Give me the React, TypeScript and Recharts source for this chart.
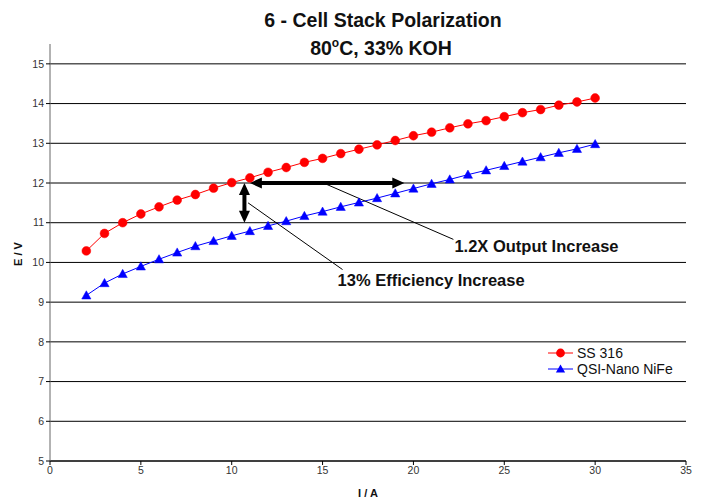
import React from "react";
import {
  LineChart,
  Line,
  XAxis,
  YAxis,
  ReferenceLine,
} from "recharts";

// current in A
const currentA = [
  2, 3, 4, 5, 6, 7, 8, 9, 10, 11, 12, 13, 14, 15, 16, 17, 18, 19, 20, 21, 22,
  23, 24, 25, 26, 27, 28, 29, 30,
];

// stack voltage in V
const ss316 = [
  10.29, 10.73, 11.0, 11.22, 11.4, 11.57, 11.71, 11.87, 12.01, 12.13, 12.27,
  12.39, 12.52, 12.62, 12.74, 12.85, 12.96, 13.07, 13.19, 13.28, 13.39, 13.49,
  13.57, 13.67, 13.77, 13.85, 13.96, 14.04, 14.14,
];

const qsiNano = [
  9.17, 9.48, 9.71, 9.9, 10.08, 10.25, 10.41, 10.54, 10.67, 10.79, 10.92,
  11.04, 11.17, 11.28, 11.4, 11.51, 11.62, 11.74, 11.86, 11.98, 12.09, 12.21,
  12.32, 12.43, 12.54, 12.65, 12.76, 12.86, 12.98,
];

const xTicks = [0, 5, 10, 15, 20, 25, 30, 35];
const yTicks = [5, 6, 7, 8, 9, 10, 11, 12, 13, 14, 15];

const data = currentA.map((i, k) => ({
  current: i,
  ss316: ss316[k],
  qsi: qsiNano[k],
}));

const FONT = "'Liberation Sans', Arial, Helvetica, sans-serif";

const RedDot = (props: any) => {
  const { cx, cy, index } = props;
  if (cx == null || cy == null) return <g key={index} />;
  return <circle key={index} cx={cx} cy={cy} r={4.4} fill="#ff0000" stroke="#ff0000" strokeWidth={0.5} />;
};

const BlueTri = (props: any) => {
  const { cx, cy, index } = props;
  if (cx == null || cy == null) return <g key={index} />;
  const pts = `${cx},${cy - 4.6} ${cx + 4.6},${cy + 3.6} ${cx - 4.6},${cy + 3.6}`;
  return <polygon key={index} points={pts} fill="#0000ff" stroke="#0000ff" strokeWidth={0.5} />;
};

// thick double headed arrow
const doubleArrow = (props: any) => {
  const { x1, y1, x2, y2 } = props;
  const dx = x2 - x1;
  const dy = y2 - y1;
  const len = Math.sqrt(dx * dx + dy * dy) || 1;
  const ux = dx / len;
  const uy = dy / len;
  const hl = 12;
  const hw = 5.5;
  const head = (tx: number, ty: number, dirx: number, diry: number) => {
    const bx = tx - dirx * hl;
    const by = ty - diry * hl;
    return `${tx},${ty} ${bx - diry * hw},${by + dirx * hw} ${bx + diry * hw},${by - dirx * hw}`;
  };
  return (
    <g>
      <line
        x1={x1 + ux * (hl - 1)}
        y1={y1 + uy * (hl - 1)}
        x2={x2 - ux * (hl - 1)}
        y2={y2 - uy * (hl - 1)}
        stroke="#000"
        strokeWidth={4}
      />
      <polygon points={head(x2, y2, ux, uy)} fill="#000" />
      <polygon points={head(x1, y1, -ux, -uy)} fill="#000" />
    </g>
  );
};

const leader = (text: string, tdx: number, tdy: number) => (props: any) => {
  const { x1, y1, x2, y2 } = props;
  return (
    <g>
      <line x1={x1} y1={y1} x2={x2} y2={y2} stroke="#000" strokeWidth={1} />
      <text
        x={x2 + tdx}
        y={y2 + tdy}
        fontFamily={FONT}
        fontSize={16.5}
        fontWeight="bold"
        fill="#111"
      >
        {text}
      </text>
    </g>
  );
};

export default function App() {
  return (
    <div style={{ position: "relative", width: 702, height: 498, background: "#fff", fontFamily: FONT }}>
      <style>{"body{margin:0}"}</style>
      <LineChart
        width={702}
        height={498}
        data={data}
        margin={{ top: 44, right: 16, bottom: 7, left: 0 }}
      >
        {/* horizontal grid, one line per labelled tick */}
        {yTicks.map((t) => (
          <ReferenceLine key={"g" + t} y={t} stroke="#000" strokeWidth={1} />
        ))}
        <XAxis
          type="number"
          dataKey="current"
          domain={[0, 35]}
          ticks={xTicks}
          height={30}
          tickSize={4}
          axisLine={{ stroke: "#000" }}
          tickLine={{ stroke: "#000" }}
          tick={{ fontSize: 10.5, fill: "#333", fontFamily: FONT }}
        />
        <YAxis
          type="number"
          domain={[5, 15.5]}
          ticks={yTicks}
          width={50}
          tickSize={4}
          axisLine={{ stroke: "#666" }}
          tickLine={{ stroke: "#000" }}
          tick={{ fontSize: 10.5, fill: "#333", fontFamily: FONT }}
        />
        <Line
          dataKey="ss316"
          stroke="#ff0000"
          strokeWidth={1}
          dot={RedDot}
          isAnimationActive={false}
        />
        <Line
          dataKey="qsi"
          stroke="#0000ff"
          strokeWidth={1}
          dot={BlueTri}
          isAnimationActive={false}
        />
        <ReferenceLine
          segment={[{ x: 11.0, y: 12 }, { x: 19.5, y: 12 }]}
          shape={doubleArrow}
        />
        <ReferenceLine
          segment={[{ x: 10.7, y: 12 }, { x: 10.7, y: 11 }]}
          shape={doubleArrow}
        />
        <ReferenceLine
          segment={[{ x: 15.05, y: 12 }, { x: 22.2, y: 10.58 }]}
          shape={leader("1.2X Output Increase", 1, 13)}
        />
        <ReferenceLine
          segment={[{ x: 10.9, y: 11.5 }, { x: 16.1, y: 9.82 }]}
          shape={leader("13% Efficiency Increase", -5, 16)}
        />
      </LineChart>
      <svg
        width={702}
        height={498}
        style={{ position: "absolute", left: 0, top: 0, pointerEvents: "none" }}
      >
        <text x={383} y={26.5} textAnchor="middle" fontFamily={FONT} fontSize={19.5} fontWeight="bold" fill="#111">
          6 - Cell Stack Polarization
        </text>
        <text x={381} y={55} textAnchor="middle" fontFamily={FONT} fontSize={19.5} fontWeight="bold" fill="#111">
          80<tspan dy={-8} fontSize={12}>o</tspan>
          <tspan dy={8}>C, 33% KOH</tspan>
        </text>
        <text
          x={0}
          y={0}
          transform="translate(22,254) rotate(-90)"
          textAnchor="middle"
          fontFamily={FONT}
          fontSize={11}
          fontWeight="bold"
          fill="#111"
        >
          E / V
        </text>
        <text x={368} y={497} textAnchor="middle" fontFamily={FONT} fontSize={11} fontWeight="bold" fill="#111">
          I / A
        </text>
        <g>
          <line x1={548} y1={353} x2={573} y2={353} stroke="#ff0000" strokeWidth={1} />
          <circle cx={560.5} cy={353} r={4.4} fill="#ff0000" />
          <text x={577} y={358} fontFamily={FONT} fontSize={14} fill="#111">
            SS 316
          </text>
          <line x1={548} y1={369} x2={573} y2={369} stroke="#0000ff" strokeWidth={1} />
          <polygon points="560.5,364.4 565.1,372.6 555.9,372.6" fill="#0000ff" />
          <text x={577} y={374} fontFamily={FONT} fontSize={14} fill="#111">
            QSI-Nano NiFe
          </text>
        </g>
      </svg>
    </div>
  );
}
